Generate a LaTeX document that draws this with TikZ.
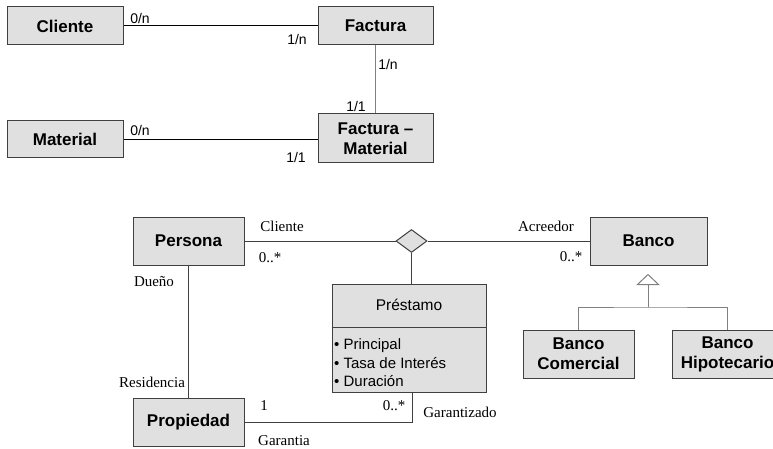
\documentclass[tikz,border=0pt]{standalone}
\usepackage{fontspec}
\setmainfont{Liberation Serif}
\newfontfamily\arial{Liberation Sans}
\usetikzlibrary{shapes.geometric,arrows.meta,calc}
\definecolor{boxfill}{HTML}{E0E0E0}
\definecolor{edge}{HTML}{404040}
\definecolor{lgray}{HTML}{808080}
\begin{document}
\begin{tikzpicture}[x=1pt,y=-1pt,
  box/.style={draw=edge, fill=boxfill, line width=1pt, inner sep=0pt, align=center,
    font=\arial\bfseries\fontsize{17}{20}\selectfont},
  mult/.style={font=\arial\fontsize{14}{16}\selectfont, inner sep=0pt},
  role/.style={font=\fontsize{15}{17}\selectfont, inner sep=0pt},
  conn/.style={line width=1pt, draw=edge},
  topconn/.style={line width=1pt, draw=black},
  grayconn/.style={line width=1.2pt, draw=lgray},
  gen/.style={line width=1pt, draw=lgray}]
\clip (0,0) rectangle (773,449);
\fill[white] (0,0) rectangle (773,449);
% ---- top diagram ----
\node[box, minimum width=116pt, minimum height=38pt] (cliente) at (65,26) {Cliente};
\node[box, minimum width=115pt, minimum height=38pt] (factura) at (375.5,26) {Factura};
\node[box, minimum width=116pt, minimum height=37pt] (material) at (65,139.5) {Material};
\node[box, minimum width=115pt, minimum height=49pt] (fm) at (375.5,138.5) {Factura –\\Material};
\draw[topconn] (cliente.east) -- (factura.west);
\draw[grayconn] (factura.south) -- (fm.north);
\draw[topconn] (material.east) -- (material.east -| fm.west);
\node[mult] (m1) at (140,18) {0/n};
\node[mult] (m2) at (297,39) {1/n};
\node[mult] (m3) at (388,64) {1/n};
\node[mult] (m4) at (356,106) {1/1};
\node[mult] (m5) at (140,130) {0/n};
\node[mult] (m6) at (296,157) {1/1};
% ---- bottom diagram ----
\node[box, minimum width=111pt, minimum height=48pt] (persona) at (188.5,241) {Persona};
\node[box, minimum width=111pt, minimum height=48pt] (propiedad) at (188.5,422) {Propiedad};
\node[box, minimum width=117pt, minimum height=48pt] (banco) at (648.5,241) {Banco};
\node[box, minimum width=111pt, minimum height=48pt] (bcom) at (578.5,354) {Banco\\Comercial};
\node[box, minimum width=111pt, minimum height=48pt] (bhip) at (727.5,354) {Banco\\Hipotecario};
\node[diamond, draw=edge, fill=boxfill, line width=1pt, inner sep=0pt,
  minimum width=31pt, minimum height=23pt] (rel) at (411.5,241) {};
\node[box, minimum width=154pt, minimum height=108pt] (prestamo) at (409,338) {};
\coordinate (divy) at (0,327);
\draw[draw=edge, line width=1pt] (prestamo.west |- divy) -- (prestamo.east |- divy);
\node[font=\arial\fontsize{15.5}{18}\selectfont, inner sep=0pt] (ptitle) at (409,305) {Préstamo};
\node[anchor=west, align=left, inner sep=0pt, font=\arial\fontsize{15}{18.5}\selectfont]
  (pattr) at (334,363) {• Principal\\• Tasa de Interés\\• Duración};
% connectors
\draw[conn] (persona.east) -- (rel.west);
\draw[conn] (rel.east) -- (banco.west);
\draw[conn] (rel.south) -- (rel.south |- prestamo.north);
\draw[conn] (persona.south) -- (propiedad.north);
\coordinate (pbot) at (412,0);
\draw[conn] (propiedad.east) -| (pbot |- prestamo.south);
% generalization
\coordinate (gj) at (648,307);
\coordinate (tapex) at ($(gj |- banco.south)+(0,9)$);
\coordinate (tbase) at ($(tapex)+(0,10)$);
\draw[gen] (bcom.north) |- (gj) -| (bhip.north);
\draw[gen] (gj) -- (tbase);
\draw[gen, fill=white, line join=miter] (tapex) -- ($(tbase)+(-10.5,0)$) -- ($(tbase)+(10.5,0)$) -- cycle;
% role labels
\node[role] (r1) at (282,226) {Cliente};
\node[role] (r2) at (270,258) {0..*};
\node[role] (r3) at (154,282) {Dueño};
\node[role] (r4) at (152,382) {Residencia};
\node[role] (r5) at (264,406) {1};
\node[role] (r6) at (394,406) {0..*};
\node[role] (r7) at (284,441) {Garantia};
\node[role] (r8) at (460,412) {Garantizado};
\node[role] (r9) at (546,226) {Acreedor};
\node[role] (r10) at (571,257) {0..*};
\end{tikzpicture}
\end{document}
